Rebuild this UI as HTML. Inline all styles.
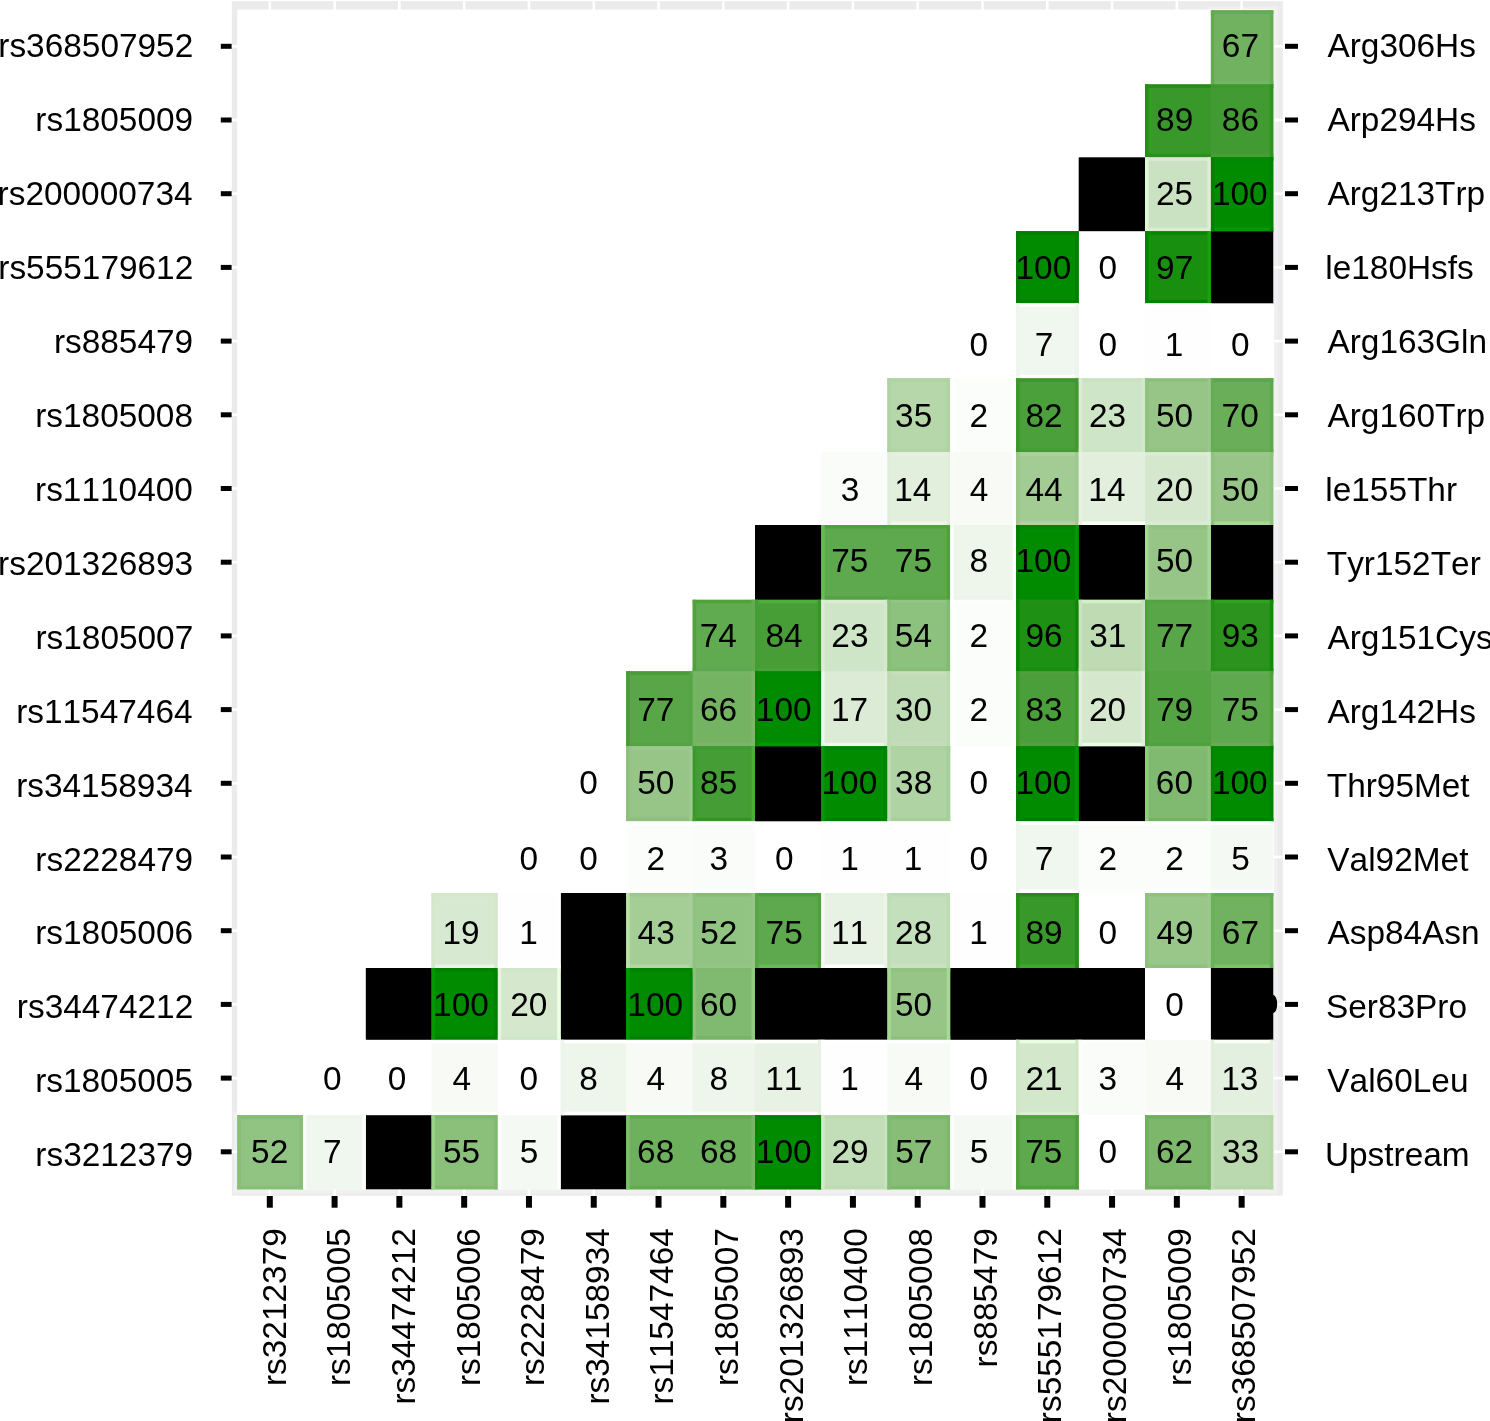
<!DOCTYPE html><html><head><meta charset="utf-8"><style>html,body{margin:0;padding:0;background:#fff;width:1490px;height:1421px;overflow:hidden}svg{display:block}#w{will-change:transform}text{font-family:"Liberation Sans",sans-serif;font-size:33.4px;fill:#000;font-kerning:none;font-feature-settings:"kern" 0}</style></head><body>
<div id="w"><svg width="1490" height="1421" viewBox="0 0 1490 1421">
<rect x="231.8" y="1.1" width="1051.0" height="1194.5" fill="#ebebeb"/>
<rect x="233.60" y="1111.50" width="4.70" height="82.00" fill="#f2eff2"/>
<rect x="233.60" y="1188.30" width="1044.30" height="5.20" fill="#f2eff2"/>
<rect x="1272.30" y="6.60" width="5.60" height="1186.90" fill="#f2eff2"/>
<rect x="1207.20" y="6.60" width="70.70" height="4.70" fill="#f2eff2"/>
<rect x="268.50" y="1.1" width="2.6" height="1194.5" fill="#fff"/>
<rect x="333.29" y="1.1" width="2.6" height="1194.5" fill="#fff"/>
<rect x="398.08" y="1.1" width="2.6" height="1194.5" fill="#fff"/>
<rect x="462.87" y="1.1" width="2.6" height="1194.5" fill="#fff"/>
<rect x="527.66" y="1.1" width="2.6" height="1194.5" fill="#fff"/>
<rect x="592.45" y="1.1" width="2.6" height="1194.5" fill="#fff"/>
<rect x="657.24" y="1.1" width="2.6" height="1194.5" fill="#fff"/>
<rect x="722.03" y="1.1" width="2.6" height="1194.5" fill="#fff"/>
<rect x="786.82" y="1.1" width="2.6" height="1194.5" fill="#fff"/>
<rect x="851.61" y="1.1" width="2.6" height="1194.5" fill="#fff"/>
<rect x="916.40" y="1.1" width="2.6" height="1194.5" fill="#fff"/>
<rect x="981.19" y="1.1" width="2.6" height="1194.5" fill="#fff"/>
<rect x="1045.98" y="1.1" width="2.6" height="1194.5" fill="#fff"/>
<rect x="1110.77" y="1.1" width="2.6" height="1194.5" fill="#fff"/>
<rect x="1175.56" y="1.1" width="2.6" height="1194.5" fill="#fff"/>
<rect x="1240.35" y="1.1" width="2.6" height="1194.5" fill="#fff"/>
<rect x="231.8" y="45.00" width="1051.0" height="2.6" fill="#fff"/>
<rect x="231.8" y="118.70" width="1051.0" height="2.6" fill="#fff"/>
<rect x="231.8" y="192.40" width="1051.0" height="2.6" fill="#fff"/>
<rect x="231.8" y="266.10" width="1051.0" height="2.6" fill="#fff"/>
<rect x="231.8" y="339.80" width="1051.0" height="2.6" fill="#fff"/>
<rect x="231.8" y="413.50" width="1051.0" height="2.6" fill="#fff"/>
<rect x="231.8" y="487.20" width="1051.0" height="2.6" fill="#fff"/>
<rect x="231.8" y="560.90" width="1051.0" height="2.6" fill="#fff"/>
<rect x="231.8" y="634.60" width="1051.0" height="2.6" fill="#fff"/>
<rect x="231.8" y="708.30" width="1051.0" height="2.6" fill="#fff"/>
<rect x="231.8" y="782.00" width="1051.0" height="2.6" fill="#fff"/>
<rect x="231.8" y="855.70" width="1051.0" height="2.6" fill="#fff"/>
<rect x="231.8" y="929.40" width="1051.0" height="2.6" fill="#fff"/>
<rect x="231.8" y="1003.10" width="1051.0" height="2.6" fill="#fff"/>
<rect x="231.8" y="1076.80" width="1051.0" height="2.6" fill="#fff"/>
<rect x="231.8" y="1150.50" width="1051.0" height="2.6" fill="#fff"/>
<rect x="237.6" y="9.5" width="1036.4" height="1179.5" fill="#fff"/>
<rect x="237.30" y="10.30" width="1036.00" height="1179.00" fill="#fff"/>
<rect x="1210.90" y="10.30" width="62.40" height="75.10" fill="#70b25f"/>
<rect x="1145.00" y="84.40" width="66.90" height="73.90" fill="#38982a"/>
<rect x="1210.90" y="84.40" width="62.40" height="73.90" fill="#419b32"/>
<rect x="1078.70" y="157.30" width="67.30" height="74.90" fill="#000000"/>
<rect x="1145.00" y="157.30" width="66.90" height="74.90" fill="#cbe2c2"/>
<rect x="1210.90" y="157.30" width="62.40" height="74.90" fill="#008b00"/>
<rect x="1016.10" y="231.20" width="63.60" height="73.10" fill="#008b00"/>
<rect x="1078.70" y="231.20" width="67.30" height="73.10" fill="#ffffff"/>
<rect x="1145.00" y="231.20" width="66.90" height="73.10" fill="#198f10"/>
<rect x="1210.90" y="231.20" width="62.40" height="73.10" fill="#000000"/>
<rect x="950.20" y="303.30" width="66.90" height="76.00" fill="#ffffff"/>
<rect x="1016.10" y="303.30" width="63.60" height="76.00" fill="#f0f7ee"/>
<rect x="1078.70" y="303.30" width="67.30" height="76.00" fill="#ffffff"/>
<rect x="1145.00" y="303.30" width="66.90" height="76.00" fill="#fdfefd"/>
<rect x="1210.90" y="303.30" width="62.40" height="76.00" fill="#ffffff"/>
<rect x="887.40" y="378.30" width="63.80" height="74.90" fill="#b6d7aa"/>
<rect x="950.20" y="378.30" width="66.90" height="74.90" fill="#fbfdfa"/>
<rect x="1016.10" y="378.30" width="63.60" height="74.90" fill="#4ca03c"/>
<rect x="1078.70" y="378.30" width="67.30" height="74.90" fill="#cfe5c7"/>
<rect x="1145.00" y="378.30" width="66.90" height="74.90" fill="#96c587"/>
<rect x="1210.90" y="378.30" width="62.40" height="74.90" fill="#6aae59"/>
<rect x="821.20" y="452.20" width="67.20" height="73.80" fill="#f9fcf8"/>
<rect x="887.40" y="452.20" width="63.80" height="73.80" fill="#e2efdc"/>
<rect x="950.20" y="452.20" width="66.90" height="73.80" fill="#f7faf5"/>
<rect x="1016.10" y="452.20" width="63.60" height="73.80" fill="#a3cc95"/>
<rect x="1078.70" y="452.20" width="67.30" height="73.80" fill="#e2efdc"/>
<rect x="1145.00" y="452.20" width="66.90" height="73.80" fill="#d5e8ce"/>
<rect x="1210.90" y="452.20" width="62.40" height="73.80" fill="#96c587"/>
<rect x="755.00" y="525.00" width="67.20" height="75.80" fill="#000000"/>
<rect x="821.20" y="525.00" width="67.20" height="75.80" fill="#5ea84d"/>
<rect x="887.40" y="525.00" width="63.80" height="75.80" fill="#5ea84d"/>
<rect x="950.20" y="525.00" width="66.90" height="75.80" fill="#eef6eb"/>
<rect x="1016.10" y="525.00" width="63.60" height="75.80" fill="#008b00"/>
<rect x="1078.70" y="525.00" width="67.30" height="75.80" fill="#000000"/>
<rect x="1145.00" y="525.00" width="66.90" height="75.80" fill="#96c587"/>
<rect x="1210.90" y="525.00" width="62.40" height="75.80" fill="#000000"/>
<rect x="692.70" y="599.80" width="63.30" height="72.50" fill="#60aa4f"/>
<rect x="755.00" y="599.80" width="67.20" height="72.50" fill="#479e37"/>
<rect x="821.20" y="599.80" width="67.20" height="72.50" fill="#cfe5c7"/>
<rect x="887.40" y="599.80" width="63.80" height="72.50" fill="#8dc17e"/>
<rect x="950.20" y="599.80" width="66.90" height="72.50" fill="#fbfdfa"/>
<rect x="1016.10" y="599.80" width="63.60" height="72.50" fill="#1e9014"/>
<rect x="1078.70" y="599.80" width="67.30" height="72.50" fill="#bedbb3"/>
<rect x="1145.00" y="599.80" width="66.90" height="72.50" fill="#59a648"/>
<rect x="1210.90" y="599.80" width="62.40" height="72.50" fill="#2b931e"/>
<rect x="626.20" y="671.30" width="67.50" height="75.90" fill="#59a648"/>
<rect x="692.70" y="671.30" width="63.30" height="75.90" fill="#73b362"/>
<rect x="755.00" y="671.30" width="67.20" height="75.90" fill="#008b00"/>
<rect x="821.20" y="671.30" width="67.20" height="75.90" fill="#dbebd5"/>
<rect x="887.40" y="671.30" width="63.80" height="75.90" fill="#c0dcb6"/>
<rect x="950.20" y="671.30" width="66.90" height="75.90" fill="#fbfdfa"/>
<rect x="1016.10" y="671.30" width="63.60" height="75.90" fill="#4a9f3a"/>
<rect x="1078.70" y="671.30" width="67.30" height="75.90" fill="#d5e8ce"/>
<rect x="1145.00" y="671.30" width="66.90" height="75.90" fill="#54a443"/>
<rect x="1210.90" y="671.30" width="62.40" height="75.90" fill="#5ea84d"/>
<rect x="560.70" y="746.20" width="66.50" height="76.10" fill="#ffffff"/>
<rect x="626.20" y="746.20" width="67.50" height="76.10" fill="#96c587"/>
<rect x="692.70" y="746.20" width="63.30" height="76.10" fill="#449d35"/>
<rect x="755.00" y="746.20" width="67.20" height="76.10" fill="#000000"/>
<rect x="821.20" y="746.20" width="67.20" height="76.10" fill="#008b00"/>
<rect x="887.40" y="746.20" width="63.80" height="76.10" fill="#afd3a3"/>
<rect x="950.20" y="746.20" width="66.90" height="76.10" fill="#ffffff"/>
<rect x="1016.10" y="746.20" width="63.60" height="76.10" fill="#008b00"/>
<rect x="1078.70" y="746.20" width="67.30" height="76.10" fill="#000000"/>
<rect x="1145.00" y="746.20" width="66.90" height="76.10" fill="#80ba70"/>
<rect x="1210.90" y="746.20" width="62.40" height="76.10" fill="#008b00"/>
<rect x="497.80" y="821.30" width="63.90" height="72.70" fill="#ffffff"/>
<rect x="560.70" y="821.30" width="66.50" height="72.70" fill="#ffffff"/>
<rect x="626.20" y="821.30" width="67.50" height="72.70" fill="#fbfdfa"/>
<rect x="692.70" y="821.30" width="63.30" height="72.70" fill="#f9fcf8"/>
<rect x="755.00" y="821.30" width="67.20" height="72.70" fill="#ffffff"/>
<rect x="821.20" y="821.30" width="67.20" height="72.70" fill="#fdfefd"/>
<rect x="887.40" y="821.30" width="63.80" height="72.70" fill="#fdfefd"/>
<rect x="950.20" y="821.30" width="66.90" height="72.70" fill="#ffffff"/>
<rect x="1016.10" y="821.30" width="63.60" height="72.70" fill="#f0f7ee"/>
<rect x="1078.70" y="821.30" width="67.30" height="72.70" fill="#fbfdfa"/>
<rect x="1145.00" y="821.30" width="66.90" height="72.70" fill="#fbfdfa"/>
<rect x="1210.90" y="821.30" width="62.40" height="72.70" fill="#f5f9f3"/>
<rect x="431.50" y="893.00" width="67.30" height="76.00" fill="#d7e9d0"/>
<rect x="497.80" y="893.00" width="63.90" height="76.00" fill="#fdfefd"/>
<rect x="560.70" y="893.00" width="66.50" height="76.00" fill="#000000"/>
<rect x="626.20" y="893.00" width="67.50" height="76.00" fill="#a5ce97"/>
<rect x="692.70" y="893.00" width="63.30" height="76.00" fill="#91c382"/>
<rect x="755.00" y="893.00" width="67.20" height="76.00" fill="#5ea84d"/>
<rect x="821.20" y="893.00" width="67.20" height="76.00" fill="#e8f2e4"/>
<rect x="887.40" y="893.00" width="63.80" height="76.00" fill="#c4dfbb"/>
<rect x="950.20" y="893.00" width="66.90" height="76.00" fill="#fdfefd"/>
<rect x="1016.10" y="893.00" width="63.60" height="76.00" fill="#38982a"/>
<rect x="1078.70" y="893.00" width="67.30" height="76.00" fill="#ffffff"/>
<rect x="1145.00" y="893.00" width="66.90" height="76.00" fill="#98c789"/>
<rect x="1210.90" y="893.00" width="62.40" height="76.00" fill="#70b25f"/>
<rect x="365.80" y="968.00" width="66.70" height="72.80" fill="#000000"/>
<rect x="431.50" y="968.00" width="67.30" height="72.80" fill="#008b00"/>
<rect x="497.80" y="968.00" width="63.90" height="72.80" fill="#d5e8ce"/>
<rect x="560.70" y="968.00" width="66.50" height="72.80" fill="#000000"/>
<rect x="626.20" y="968.00" width="67.50" height="72.80" fill="#008b00"/>
<rect x="692.70" y="968.00" width="63.30" height="72.80" fill="#80ba70"/>
<rect x="755.00" y="968.00" width="67.20" height="72.80" fill="#000000"/>
<rect x="821.20" y="968.00" width="67.20" height="72.80" fill="#000000"/>
<rect x="887.40" y="968.00" width="63.80" height="72.80" fill="#96c587"/>
<rect x="950.20" y="968.00" width="66.90" height="72.80" fill="#000000"/>
<rect x="1016.10" y="968.00" width="63.60" height="72.80" fill="#000000"/>
<rect x="1078.70" y="968.00" width="67.30" height="72.80" fill="#000000"/>
<rect x="1145.00" y="968.00" width="66.90" height="72.80" fill="#ffffff"/>
<rect x="1210.90" y="968.00" width="62.40" height="72.80" fill="#000000"/>
<rect x="303.00" y="1039.80" width="63.80" height="76.40" fill="#ffffff"/>
<rect x="365.80" y="1039.80" width="66.70" height="76.40" fill="#ffffff"/>
<rect x="431.50" y="1039.80" width="67.30" height="76.40" fill="#f7faf5"/>
<rect x="497.80" y="1039.80" width="63.90" height="76.40" fill="#ffffff"/>
<rect x="560.70" y="1039.80" width="66.50" height="76.40" fill="#eef6eb"/>
<rect x="626.20" y="1039.80" width="67.50" height="76.40" fill="#f7faf5"/>
<rect x="692.70" y="1039.80" width="63.30" height="76.40" fill="#eef6eb"/>
<rect x="755.00" y="1039.80" width="67.20" height="76.40" fill="#e8f2e4"/>
<rect x="821.20" y="1039.80" width="67.20" height="76.40" fill="#fdfefd"/>
<rect x="887.40" y="1039.80" width="63.80" height="76.40" fill="#f7faf5"/>
<rect x="950.20" y="1039.80" width="66.90" height="76.40" fill="#ffffff"/>
<rect x="1016.10" y="1039.80" width="63.60" height="76.40" fill="#d3e7cb"/>
<rect x="1078.70" y="1039.80" width="67.30" height="76.40" fill="#f9fcf8"/>
<rect x="1145.00" y="1039.80" width="66.90" height="76.40" fill="#f7faf5"/>
<rect x="1210.90" y="1039.80" width="62.40" height="76.40" fill="#e4f0df"/>
<rect x="237.30" y="1115.20" width="66.70" height="74.10" fill="#91c382"/>
<rect x="303.00" y="1115.20" width="63.80" height="74.10" fill="#f0f7ee"/>
<rect x="365.80" y="1115.20" width="66.70" height="74.10" fill="#000000"/>
<rect x="431.50" y="1115.20" width="67.30" height="74.10" fill="#8bc07b"/>
<rect x="497.80" y="1115.20" width="63.90" height="74.10" fill="#f5f9f3"/>
<rect x="560.70" y="1115.20" width="66.50" height="74.10" fill="#000000"/>
<rect x="626.20" y="1115.20" width="67.50" height="74.10" fill="#6eb15d"/>
<rect x="692.70" y="1115.20" width="63.30" height="74.10" fill="#6eb15d"/>
<rect x="755.00" y="1115.20" width="67.20" height="74.10" fill="#008b00"/>
<rect x="821.20" y="1115.20" width="67.20" height="74.10" fill="#c2deb8"/>
<rect x="887.40" y="1115.20" width="63.80" height="74.10" fill="#87bd77"/>
<rect x="950.20" y="1115.20" width="66.90" height="74.10" fill="#f5f9f3"/>
<rect x="1016.10" y="1115.20" width="63.60" height="74.10" fill="#5ea84d"/>
<rect x="1078.70" y="1115.20" width="67.30" height="74.10" fill="#ffffff"/>
<rect x="1145.00" y="1115.20" width="66.90" height="74.10" fill="#7cb76b"/>
<rect x="1210.90" y="1115.20" width="62.40" height="74.10" fill="#bad9af"/>
<rect x="1210.90" y="10.30" width="62.40" height="3.50" fill="#63ac50"/>
<rect x="1210.90" y="80.90" width="62.40" height="3.50" fill="#75b464"/>
<rect x="1210.90" y="10.30" width="3.50" height="74.10" fill="#62aa4f"/>
<rect x="1269.80" y="10.30" width="3.50" height="74.10" fill="#63ac50"/>
<rect x="1145.00" y="84.40" width="65.90" height="3.50" fill="#248e15"/>
<rect x="1145.00" y="153.80" width="65.90" height="3.50" fill="#29911b"/>
<rect x="1145.00" y="84.40" width="3.50" height="72.90" fill="#248e15"/>
<rect x="1210.90" y="84.40" width="62.40" height="3.50" fill="#3c992e"/>
<rect x="1210.90" y="153.80" width="62.40" height="3.50" fill="#489d37"/>
<rect x="1269.80" y="84.40" width="3.50" height="72.90" fill="#2f931f"/>
<rect x="1145.00" y="157.30" width="65.90" height="3.50" fill="#dae9d1"/>
<rect x="1145.00" y="227.70" width="65.90" height="3.50" fill="#ddead4"/>
<rect x="1145.00" y="157.30" width="3.50" height="73.90" fill="#dff9d5"/>
<rect x="1207.40" y="157.30" width="3.50" height="73.90" fill="#dfebd5"/>
<rect x="1210.90" y="157.30" width="62.40" height="3.50" fill="#008900"/>
<rect x="1210.90" y="227.70" width="62.40" height="3.50" fill="#009900"/>
<rect x="1210.90" y="157.30" width="3.50" height="73.90" fill="#008200"/>
<rect x="1269.80" y="157.30" width="3.50" height="73.90" fill="#008100"/>
<rect x="1016.10" y="231.20" width="62.60" height="3.50" fill="#007f00"/>
<rect x="1016.10" y="299.80" width="62.60" height="3.50" fill="#008000"/>
<rect x="1016.10" y="231.20" width="3.50" height="72.10" fill="#007f00"/>
<rect x="1075.20" y="231.20" width="3.50" height="72.10" fill="#007f00"/>
<rect x="1145.00" y="231.20" width="65.90" height="3.50" fill="#078700"/>
<rect x="1145.00" y="299.80" width="65.90" height="3.50" fill="#028400"/>
<rect x="1145.00" y="231.20" width="3.50" height="72.10" fill="#028400"/>
<rect x="1207.40" y="231.20" width="3.50" height="72.10" fill="#1c9d12"/>
<rect x="1016.10" y="303.30" width="62.60" height="3.50" fill="#ffffff"/>
<rect x="1016.10" y="374.80" width="62.60" height="3.50" fill="#ffffff"/>
<rect x="1016.10" y="303.30" width="3.50" height="75.00" fill="#eef6ec"/>
<rect x="1075.20" y="303.30" width="3.50" height="75.00" fill="#eef6ec"/>
<rect x="1145.00" y="303.30" width="65.90" height="3.50" fill="#ffffff"/>
<rect x="1145.00" y="374.80" width="65.90" height="3.50" fill="#ffffff"/>
<rect x="887.40" y="378.30" width="62.80" height="3.50" fill="#afd3a2"/>
<rect x="887.40" y="448.70" width="62.80" height="3.50" fill="#b2d5a5"/>
<rect x="887.40" y="378.30" width="3.50" height="73.90" fill="#afd3a2"/>
<rect x="946.70" y="378.30" width="3.50" height="73.90" fill="#afd3a2"/>
<rect x="950.20" y="378.30" width="3.50" height="73.90" fill="#ffffff"/>
<rect x="1012.60" y="378.30" width="3.50" height="73.90" fill="#ffffff"/>
<rect x="1016.10" y="378.30" width="62.60" height="3.50" fill="#3c972a"/>
<rect x="1016.10" y="448.70" width="62.60" height="3.50" fill="#439c33"/>
<rect x="1016.10" y="378.30" width="3.50" height="73.90" fill="#3a9729"/>
<rect x="1075.20" y="378.30" width="3.50" height="73.90" fill="#3f992e"/>
<rect x="1078.70" y="378.30" width="66.30" height="3.50" fill="#cae2c1"/>
<rect x="1078.70" y="448.70" width="66.30" height="3.50" fill="#cde4c5"/>
<rect x="1078.70" y="378.30" width="3.50" height="73.90" fill="#dcecd5"/>
<rect x="1141.50" y="378.30" width="3.50" height="73.90" fill="#d5e8cd"/>
<rect x="1145.00" y="378.30" width="65.90" height="3.50" fill="#8cbf7b"/>
<rect x="1145.00" y="448.70" width="65.90" height="3.50" fill="#90c280"/>
<rect x="1145.00" y="378.30" width="3.50" height="73.90" fill="#90c281"/>
<rect x="1207.40" y="378.30" width="3.50" height="73.90" fill="#9ac78c"/>
<rect x="1210.90" y="378.30" width="62.40" height="3.50" fill="#5ba648"/>
<rect x="1210.90" y="448.70" width="62.40" height="3.50" fill="#66ac54"/>
<rect x="1210.90" y="378.30" width="3.50" height="73.90" fill="#66ac54"/>
<rect x="1269.80" y="378.30" width="3.50" height="73.90" fill="#5ca84a"/>
<rect x="821.20" y="521.50" width="66.20" height="3.50" fill="#ffffff"/>
<rect x="883.90" y="452.20" width="3.50" height="72.80" fill="#fbfdfb"/>
<rect x="887.40" y="452.20" width="62.80" height="3.50" fill="#e6f1e1"/>
<rect x="887.40" y="521.50" width="62.80" height="3.50" fill="#eff6ea"/>
<rect x="887.40" y="452.20" width="3.50" height="72.80" fill="#e0eed9"/>
<rect x="946.70" y="452.20" width="3.50" height="72.80" fill="#e0eeda"/>
<rect x="950.20" y="452.20" width="3.50" height="72.80" fill="#f9fbf8"/>
<rect x="1012.60" y="452.20" width="3.50" height="72.80" fill="#ffffff"/>
<rect x="1016.10" y="452.20" width="62.60" height="3.50" fill="#acd09e"/>
<rect x="1016.10" y="521.50" width="62.60" height="3.50" fill="#b3d2a4"/>
<rect x="1016.10" y="452.20" width="3.50" height="72.80" fill="#9bc78b"/>
<rect x="1075.20" y="452.20" width="3.50" height="72.80" fill="#9dc88e"/>
<rect x="1078.70" y="452.20" width="66.30" height="3.50" fill="#e4f0de"/>
<rect x="1078.70" y="521.50" width="66.30" height="3.50" fill="#f9fff2"/>
<rect x="1078.70" y="452.20" width="3.50" height="72.80" fill="#e8f2e3"/>
<rect x="1145.00" y="452.20" width="65.90" height="3.50" fill="#dbecd5"/>
<rect x="1145.00" y="521.50" width="65.90" height="3.50" fill="#dbecd5"/>
<rect x="1207.40" y="452.20" width="3.50" height="72.80" fill="#dbecd5"/>
<rect x="1210.90" y="452.20" width="62.40" height="3.50" fill="#9ac78c"/>
<rect x="1210.90" y="521.50" width="62.40" height="3.50" fill="#a5d994"/>
<rect x="1210.90" y="452.20" width="3.50" height="72.80" fill="#90c280"/>
<rect x="1269.80" y="452.20" width="3.50" height="72.80" fill="#8dc17c"/>
<rect x="821.20" y="525.00" width="66.20" height="3.50" fill="#4ea03c"/>
<rect x="821.20" y="596.30" width="66.20" height="3.50" fill="#53a241"/>
<rect x="821.20" y="525.00" width="3.50" height="74.80" fill="#67b955"/>
<rect x="887.40" y="525.00" width="62.80" height="3.50" fill="#51a13f"/>
<rect x="887.40" y="596.30" width="62.80" height="3.50" fill="#59a648"/>
<rect x="946.70" y="525.00" width="3.50" height="74.80" fill="#50a03d"/>
<rect x="950.20" y="596.30" width="65.90" height="3.50" fill="#edf5ea"/>
<rect x="950.20" y="525.00" width="3.50" height="74.80" fill="#fcfefb"/>
<rect x="1012.60" y="525.00" width="3.50" height="74.80" fill="#ffffff"/>
<rect x="1016.10" y="525.00" width="62.60" height="3.50" fill="#008400"/>
<rect x="1016.10" y="525.00" width="3.50" height="74.80" fill="#008000"/>
<rect x="1075.20" y="525.00" width="3.50" height="74.80" fill="#009900"/>
<rect x="1145.00" y="525.00" width="65.90" height="3.50" fill="#90c280"/>
<rect x="1145.00" y="596.30" width="65.90" height="3.50" fill="#9cc88d"/>
<rect x="1145.00" y="525.00" width="3.50" height="74.80" fill="#a5d994"/>
<rect x="1207.40" y="525.00" width="3.50" height="74.80" fill="#a5d994"/>
<rect x="692.70" y="599.80" width="62.30" height="3.50" fill="#50a23d"/>
<rect x="692.70" y="667.80" width="62.30" height="3.50" fill="#5ea94d"/>
<rect x="692.70" y="599.80" width="3.50" height="71.50" fill="#50a23d"/>
<rect x="751.50" y="599.80" width="3.50" height="71.50" fill="#62ab51"/>
<rect x="755.00" y="599.80" width="66.20" height="3.50" fill="#4eae3c"/>
<rect x="755.00" y="667.80" width="66.20" height="3.50" fill="#4ea03c"/>
<rect x="755.00" y="599.80" width="3.50" height="71.50" fill="#449d35"/>
<rect x="817.70" y="599.80" width="3.50" height="71.50" fill="#399729"/>
<rect x="821.20" y="599.80" width="66.20" height="3.50" fill="#daebd3"/>
<rect x="821.20" y="599.80" width="3.50" height="71.50" fill="#ddecd5"/>
<rect x="883.90" y="599.80" width="3.50" height="71.50" fill="#d6e9ce"/>
<rect x="887.40" y="599.80" width="62.80" height="3.50" fill="#92c483"/>
<rect x="887.40" y="667.80" width="62.80" height="3.50" fill="#88be78"/>
<rect x="887.40" y="599.80" width="3.50" height="71.50" fill="#86bd77"/>
<rect x="946.70" y="599.80" width="3.50" height="71.50" fill="#82bb72"/>
<rect x="950.20" y="599.80" width="65.90" height="3.50" fill="#fcfefc"/>
<rect x="950.20" y="599.80" width="3.50" height="71.50" fill="#ffffff"/>
<rect x="1012.60" y="599.80" width="3.50" height="71.50" fill="#ffffff"/>
<rect x="1016.10" y="599.80" width="62.60" height="3.50" fill="#219016"/>
<rect x="1016.10" y="667.80" width="62.60" height="3.50" fill="#1a8e10"/>
<rect x="1016.10" y="599.80" width="3.50" height="71.50" fill="#088500"/>
<rect x="1075.20" y="599.80" width="3.50" height="71.50" fill="#0e8804"/>
<rect x="1078.70" y="599.80" width="66.30" height="3.50" fill="#d1f1c5"/>
<rect x="1078.70" y="667.80" width="66.30" height="3.50" fill="#bcdab0"/>
<rect x="1078.70" y="599.80" width="3.50" height="71.50" fill="#cee2c3"/>
<rect x="1141.50" y="599.80" width="3.50" height="71.50" fill="#c8e0be"/>
<rect x="1145.00" y="599.80" width="65.90" height="3.50" fill="#53a342"/>
<rect x="1145.00" y="599.80" width="3.50" height="71.50" fill="#4fa13d"/>
<rect x="1207.40" y="599.80" width="3.50" height="71.50" fill="#5ea84c"/>
<rect x="1210.90" y="599.80" width="62.40" height="3.50" fill="#2fa221"/>
<rect x="1210.90" y="667.80" width="62.40" height="3.50" fill="#269119"/>
<rect x="1210.90" y="599.80" width="3.50" height="71.50" fill="#26911a"/>
<rect x="1269.80" y="599.80" width="3.50" height="71.50" fill="#178a09"/>
<rect x="626.20" y="671.30" width="66.50" height="3.50" fill="#489d36"/>
<rect x="626.20" y="742.70" width="66.50" height="3.50" fill="#53a342"/>
<rect x="626.20" y="671.30" width="3.50" height="74.90" fill="#489d36"/>
<rect x="689.20" y="671.30" width="3.50" height="74.90" fill="#56a545"/>
<rect x="692.70" y="671.30" width="62.30" height="3.50" fill="#75b464"/>
<rect x="692.70" y="742.70" width="62.30" height="3.50" fill="#78b566"/>
<rect x="692.70" y="671.30" width="3.50" height="74.90" fill="#76b465"/>
<rect x="751.50" y="671.30" width="3.50" height="74.90" fill="#7eb76c"/>
<rect x="755.00" y="671.30" width="66.20" height="3.50" fill="#008900"/>
<rect x="755.00" y="742.70" width="66.20" height="3.50" fill="#009900"/>
<rect x="755.00" y="671.30" width="3.50" height="74.90" fill="#008700"/>
<rect x="817.70" y="671.30" width="3.50" height="74.90" fill="#008100"/>
<rect x="821.20" y="742.70" width="66.20" height="3.50" fill="#f1f5ea"/>
<rect x="821.20" y="671.30" width="3.50" height="74.90" fill="#f1f5ea"/>
<rect x="883.90" y="671.30" width="3.50" height="74.90" fill="#deecd8"/>
<rect x="887.40" y="671.30" width="62.80" height="3.50" fill="#c5dfbc"/>
<rect x="887.40" y="742.70" width="62.80" height="3.50" fill="#c2ddb8"/>
<rect x="887.40" y="671.30" width="3.50" height="74.90" fill="#bddab3"/>
<rect x="946.70" y="671.30" width="3.50" height="74.90" fill="#bad9af"/>
<rect x="950.20" y="671.30" width="3.50" height="74.90" fill="#ffffff"/>
<rect x="1012.60" y="671.30" width="3.50" height="74.90" fill="#ffffff"/>
<rect x="1016.10" y="671.30" width="62.60" height="3.50" fill="#4ea03e"/>
<rect x="1016.10" y="742.70" width="62.60" height="3.50" fill="#51a140"/>
<rect x="1016.10" y="671.30" width="3.50" height="74.90" fill="#389627"/>
<rect x="1075.20" y="671.30" width="3.50" height="74.90" fill="#3c982b"/>
<rect x="1078.70" y="671.30" width="66.30" height="3.50" fill="#d7e9d1"/>
<rect x="1078.70" y="742.70" width="66.30" height="3.50" fill="#eaffe3"/>
<rect x="1078.70" y="671.30" width="3.50" height="74.90" fill="#e3efdd"/>
<rect x="1141.50" y="671.30" width="3.50" height="74.90" fill="#e2efdc"/>
<rect x="1145.00" y="742.70" width="65.90" height="3.50" fill="#50a23e"/>
<rect x="1145.00" y="671.30" width="3.50" height="74.90" fill="#479d35"/>
<rect x="1210.90" y="671.30" width="62.40" height="3.50" fill="#63aa52"/>
<rect x="1210.90" y="742.70" width="62.40" height="3.50" fill="#67ab55"/>
<rect x="1269.80" y="671.30" width="3.50" height="74.90" fill="#4fa13c"/>
<rect x="626.20" y="746.20" width="66.50" height="3.50" fill="#9cc88d"/>
<rect x="626.20" y="817.80" width="66.50" height="3.50" fill="#8cbf7c"/>
<rect x="626.20" y="746.20" width="3.50" height="75.10" fill="#8cbf7b"/>
<rect x="689.20" y="746.20" width="3.50" height="75.10" fill="#9ec98f"/>
<rect x="692.70" y="746.20" width="62.30" height="3.50" fill="#3f9b30"/>
<rect x="692.70" y="817.80" width="62.30" height="3.50" fill="#329422"/>
<rect x="692.70" y="746.20" width="3.50" height="75.10" fill="#3c992d"/>
<rect x="751.50" y="746.20" width="3.50" height="75.10" fill="#4bad3a"/>
<rect x="821.20" y="746.20" width="66.20" height="3.50" fill="#008100"/>
<rect x="821.20" y="817.80" width="66.20" height="3.50" fill="#008000"/>
<rect x="821.20" y="746.20" width="3.50" height="75.10" fill="#009900"/>
<rect x="883.90" y="746.20" width="3.50" height="75.10" fill="#008400"/>
<rect x="887.40" y="746.20" width="62.80" height="3.50" fill="#add2a1"/>
<rect x="887.40" y="817.80" width="62.80" height="3.50" fill="#a7cf9a"/>
<rect x="887.40" y="746.20" width="3.50" height="75.10" fill="#c0dab3"/>
<rect x="946.70" y="746.20" width="3.50" height="75.10" fill="#a7cf9a"/>
<rect x="1016.10" y="746.20" width="62.60" height="3.50" fill="#008900"/>
<rect x="1016.10" y="817.80" width="62.60" height="3.50" fill="#008000"/>
<rect x="1016.10" y="746.20" width="3.50" height="75.10" fill="#007f00"/>
<rect x="1075.20" y="746.20" width="3.50" height="75.10" fill="#009900"/>
<rect x="1145.00" y="746.20" width="65.90" height="3.50" fill="#84bc74"/>
<rect x="1145.00" y="817.80" width="65.90" height="3.50" fill="#74b362"/>
<rect x="1145.00" y="746.20" width="3.50" height="75.10" fill="#8dcd7b"/>
<rect x="1207.40" y="746.20" width="3.50" height="75.10" fill="#8dbf7b"/>
<rect x="1210.90" y="746.20" width="62.40" height="3.50" fill="#008800"/>
<rect x="1210.90" y="817.80" width="62.40" height="3.50" fill="#008000"/>
<rect x="1210.90" y="746.20" width="3.50" height="75.10" fill="#008600"/>
<rect x="1269.80" y="746.20" width="3.50" height="75.10" fill="#008100"/>
<rect x="626.20" y="821.30" width="66.50" height="3.50" fill="#ffffff"/>
<rect x="626.20" y="889.50" width="66.50" height="3.50" fill="#ffffff"/>
<rect x="692.70" y="821.30" width="62.30" height="3.50" fill="#ffffff"/>
<rect x="692.70" y="889.50" width="62.30" height="3.50" fill="#ffffff"/>
<rect x="821.20" y="821.30" width="66.20" height="3.50" fill="#ffffff"/>
<rect x="821.20" y="889.50" width="66.20" height="3.50" fill="#ffffff"/>
<rect x="887.40" y="821.30" width="62.80" height="3.50" fill="#ffffff"/>
<rect x="887.40" y="889.50" width="62.80" height="3.50" fill="#ffffff"/>
<rect x="1016.10" y="821.30" width="62.60" height="3.50" fill="#ffffff"/>
<rect x="1016.10" y="889.50" width="62.60" height="3.50" fill="#ffffff"/>
<rect x="1016.10" y="821.30" width="3.50" height="71.70" fill="#eef6ec"/>
<rect x="1078.70" y="821.30" width="66.30" height="3.50" fill="#ffffff"/>
<rect x="1145.00" y="821.30" width="65.90" height="3.50" fill="#ffffff"/>
<rect x="1145.00" y="889.50" width="65.90" height="3.50" fill="#ffffff"/>
<rect x="1210.90" y="821.30" width="62.40" height="3.50" fill="#ffffff"/>
<rect x="1210.90" y="889.50" width="62.40" height="3.50" fill="#ffffff"/>
<rect x="431.50" y="893.00" width="66.30" height="3.50" fill="#d3e7cb"/>
<rect x="431.50" y="964.50" width="66.30" height="3.50" fill="#ecf2e5"/>
<rect x="431.50" y="893.00" width="3.50" height="75.00" fill="#d3e7cb"/>
<rect x="494.30" y="893.00" width="3.50" height="75.00" fill="#d3e7cc"/>
<rect x="497.80" y="964.50" width="62.90" height="3.50" fill="#ffffff"/>
<rect x="497.80" y="893.00" width="3.50" height="75.00" fill="#ffffff"/>
<rect x="557.20" y="893.00" width="3.50" height="75.00" fill="#ffffff"/>
<rect x="626.20" y="893.00" width="66.50" height="3.50" fill="#9cc98d"/>
<rect x="626.20" y="964.50" width="66.50" height="3.50" fill="#b6d5a6"/>
<rect x="626.20" y="893.00" width="3.50" height="75.00" fill="#b6e3a6"/>
<rect x="689.20" y="893.00" width="3.50" height="75.00" fill="#a7cf99"/>
<rect x="692.70" y="893.00" width="62.30" height="3.50" fill="#87bd76"/>
<rect x="692.70" y="964.50" width="62.30" height="3.50" fill="#93c484"/>
<rect x="692.70" y="893.00" width="3.50" height="75.00" fill="#8fc280"/>
<rect x="751.50" y="893.00" width="3.50" height="75.00" fill="#96c687"/>
<rect x="755.00" y="893.00" width="66.20" height="3.50" fill="#4e9f3b"/>
<rect x="755.00" y="964.50" width="66.20" height="3.50" fill="#67b955"/>
<rect x="755.00" y="893.00" width="3.50" height="75.00" fill="#59a548"/>
<rect x="817.70" y="893.00" width="3.50" height="75.00" fill="#50a13e"/>
<rect x="821.20" y="893.00" width="66.20" height="3.50" fill="#e6f1e2"/>
<rect x="821.20" y="964.50" width="66.20" height="3.50" fill="#fffffb"/>
<rect x="821.20" y="893.00" width="3.50" height="75.00" fill="#f6f9f3"/>
<rect x="883.90" y="893.00" width="3.50" height="75.00" fill="#ecf4e8"/>
<rect x="887.40" y="893.00" width="62.80" height="3.50" fill="#bedcb4"/>
<rect x="887.40" y="964.50" width="62.80" height="3.50" fill="#c9e2c0"/>
<rect x="887.40" y="893.00" width="3.50" height="75.00" fill="#c0ddb7"/>
<rect x="946.70" y="893.00" width="3.50" height="75.00" fill="#bedcb4"/>
<rect x="950.20" y="964.50" width="65.90" height="3.50" fill="#ffffff"/>
<rect x="950.20" y="893.00" width="3.50" height="75.00" fill="#ffffff"/>
<rect x="1012.60" y="893.00" width="3.50" height="75.00" fill="#ffffff"/>
<rect x="1016.10" y="893.00" width="62.60" height="3.50" fill="#268e16"/>
<rect x="1016.10" y="964.50" width="62.60" height="3.50" fill="#3ea72e"/>
<rect x="1016.10" y="893.00" width="3.50" height="75.00" fill="#248e15"/>
<rect x="1075.20" y="893.00" width="3.50" height="75.00" fill="#248e15"/>
<rect x="1145.00" y="893.00" width="65.90" height="3.50" fill="#8ec27e"/>
<rect x="1145.00" y="964.50" width="65.90" height="3.50" fill="#8ec17d"/>
<rect x="1145.00" y="893.00" width="3.50" height="75.00" fill="#8ec17d"/>
<rect x="1207.40" y="893.00" width="3.50" height="75.00" fill="#9cc98d"/>
<rect x="1210.90" y="893.00" width="62.40" height="3.50" fill="#63ab50"/>
<rect x="1210.90" y="964.50" width="62.40" height="3.50" fill="#7bc468"/>
<rect x="1210.90" y="893.00" width="3.50" height="75.00" fill="#6cb05b"/>
<rect x="1269.80" y="893.00" width="3.50" height="75.00" fill="#63ac50"/>
<rect x="431.50" y="968.00" width="66.30" height="3.50" fill="#008200"/>
<rect x="431.50" y="1036.30" width="66.30" height="3.50" fill="#008000"/>
<rect x="431.50" y="968.00" width="3.50" height="71.80" fill="#009900"/>
<rect x="494.30" y="968.00" width="3.50" height="71.80" fill="#008200"/>
<rect x="497.80" y="968.00" width="62.90" height="3.50" fill="#d1e6c9"/>
<rect x="497.80" y="1036.30" width="62.90" height="3.50" fill="#d1e6c9"/>
<rect x="497.80" y="968.00" width="3.50" height="71.80" fill="#eaf1e3"/>
<rect x="557.20" y="968.00" width="3.50" height="71.80" fill="#eaffe3"/>
<rect x="626.20" y="968.00" width="66.50" height="3.50" fill="#008400"/>
<rect x="626.20" y="1036.30" width="66.50" height="3.50" fill="#008000"/>
<rect x="626.20" y="968.00" width="3.50" height="71.80" fill="#009900"/>
<rect x="689.20" y="968.00" width="3.50" height="71.80" fill="#008600"/>
<rect x="692.70" y="968.00" width="62.30" height="3.50" fill="#7eb96e"/>
<rect x="692.70" y="1036.30" width="62.30" height="3.50" fill="#75b464"/>
<rect x="692.70" y="968.00" width="3.50" height="71.80" fill="#8dbf7b"/>
<rect x="751.50" y="968.00" width="3.50" height="71.80" fill="#8dcd7b"/>
<rect x="887.40" y="968.00" width="62.80" height="3.50" fill="#91c282"/>
<rect x="887.40" y="1036.30" width="62.80" height="3.50" fill="#8cc07c"/>
<rect x="887.40" y="968.00" width="3.50" height="71.80" fill="#a5d994"/>
<rect x="946.70" y="968.00" width="3.50" height="71.80" fill="#a5d994"/>
<rect x="431.50" y="1039.80" width="66.30" height="3.50" fill="#ffffff"/>
<rect x="431.50" y="1111.70" width="66.30" height="3.50" fill="#ffffff"/>
<rect x="560.70" y="1039.80" width="65.50" height="3.50" fill="#ffffff"/>
<rect x="560.70" y="1111.70" width="65.50" height="3.50" fill="#ffffff"/>
<rect x="560.70" y="1039.80" width="3.50" height="75.40" fill="#ecf5e9"/>
<rect x="626.20" y="1039.80" width="66.50" height="3.50" fill="#ffffff"/>
<rect x="626.20" y="1111.70" width="66.50" height="3.50" fill="#ffffff"/>
<rect x="692.70" y="1039.80" width="62.30" height="3.50" fill="#f9fcf7"/>
<rect x="692.70" y="1111.70" width="62.30" height="3.50" fill="#fbfdf9"/>
<rect x="755.00" y="1039.80" width="66.20" height="3.50" fill="#fffffb"/>
<rect x="755.00" y="1111.70" width="66.20" height="3.50" fill="#fffcfb"/>
<rect x="817.70" y="1039.80" width="3.50" height="75.40" fill="#e6f1e2"/>
<rect x="821.20" y="1039.80" width="66.20" height="3.50" fill="#ffffff"/>
<rect x="821.20" y="1111.70" width="66.20" height="3.50" fill="#ffffff"/>
<rect x="821.20" y="1039.80" width="3.50" height="75.40" fill="#ffffff"/>
<rect x="887.40" y="1039.80" width="62.80" height="3.50" fill="#ffffff"/>
<rect x="887.40" y="1111.70" width="62.80" height="3.50" fill="#ffffff"/>
<rect x="1016.10" y="1039.80" width="62.60" height="3.50" fill="#e8fedf"/>
<rect x="1016.10" y="1111.70" width="62.60" height="3.50" fill="#dfedd8"/>
<rect x="1016.10" y="1039.80" width="3.50" height="75.40" fill="#cfe5c6"/>
<rect x="1075.20" y="1039.80" width="3.50" height="75.40" fill="#cfe5c6"/>
<rect x="1078.70" y="1039.80" width="66.30" height="3.50" fill="#ffffff"/>
<rect x="1078.70" y="1039.80" width="3.50" height="75.40" fill="#fdfefc"/>
<rect x="1145.00" y="1111.70" width="65.90" height="3.50" fill="#ffffff"/>
<rect x="1207.40" y="1039.80" width="3.50" height="75.40" fill="#f9fbf7"/>
<rect x="1210.90" y="1039.80" width="62.40" height="3.50" fill="#fbfff5"/>
<rect x="1210.90" y="1111.70" width="62.40" height="3.50" fill="#e8f2e4"/>
<rect x="1210.90" y="1039.80" width="3.50" height="75.40" fill="#e2efdd"/>
<rect x="1269.80" y="1039.80" width="3.50" height="75.40" fill="#e3f0dd"/>
<rect x="237.30" y="1115.20" width="65.70" height="3.50" fill="#86bd76"/>
<rect x="237.30" y="1185.80" width="65.70" height="3.50" fill="#87bf77"/>
<rect x="237.30" y="1115.20" width="3.50" height="74.10" fill="#87bf77"/>
<rect x="299.50" y="1115.20" width="3.50" height="74.10" fill="#88be77"/>
<rect x="303.00" y="1115.20" width="62.80" height="3.50" fill="#eef6ec"/>
<rect x="303.00" y="1115.20" width="3.50" height="74.10" fill="#fafcf9"/>
<rect x="362.30" y="1115.20" width="3.50" height="74.10" fill="#ffffff"/>
<rect x="431.50" y="1115.20" width="66.30" height="3.50" fill="#80ba6f"/>
<rect x="431.50" y="1185.80" width="66.30" height="3.50" fill="#81bb6f"/>
<rect x="431.50" y="1115.20" width="3.50" height="74.10" fill="#99d387"/>
<rect x="494.30" y="1115.20" width="3.50" height="74.10" fill="#80ba6f"/>
<rect x="497.80" y="1115.20" width="3.50" height="74.10" fill="#ffffff"/>
<rect x="557.20" y="1115.20" width="3.50" height="74.10" fill="#ffffff"/>
<rect x="626.20" y="1115.20" width="66.50" height="3.50" fill="#60aa4e"/>
<rect x="626.20" y="1185.80" width="66.50" height="3.50" fill="#61ab4e"/>
<rect x="626.20" y="1115.20" width="3.50" height="74.10" fill="#79c366"/>
<rect x="692.70" y="1115.20" width="62.30" height="3.50" fill="#61aa4f"/>
<rect x="692.70" y="1185.80" width="62.30" height="3.50" fill="#61ab4e"/>
<rect x="751.50" y="1115.20" width="3.50" height="74.10" fill="#79b566"/>
<rect x="755.00" y="1115.20" width="66.20" height="3.50" fill="#008100"/>
<rect x="755.00" y="1185.80" width="66.20" height="3.50" fill="#008100"/>
<rect x="755.00" y="1115.20" width="3.50" height="74.10" fill="#008700"/>
<rect x="817.70" y="1115.20" width="3.50" height="74.10" fill="#008300"/>
<rect x="821.20" y="1115.20" width="66.20" height="3.50" fill="#bcdbb1"/>
<rect x="821.20" y="1185.80" width="66.20" height="3.50" fill="#bddcb2"/>
<rect x="821.20" y="1115.20" width="3.50" height="74.10" fill="#d5e6ca"/>
<rect x="883.90" y="1115.20" width="3.50" height="74.10" fill="#c8e1be"/>
<rect x="887.40" y="1115.20" width="62.80" height="3.50" fill="#7cb76a"/>
<rect x="887.40" y="1185.80" width="62.80" height="3.50" fill="#7cb86b"/>
<rect x="887.40" y="1115.20" width="3.50" height="74.10" fill="#81ba70"/>
<rect x="946.70" y="1115.20" width="3.50" height="74.10" fill="#7cb76b"/>
<rect x="950.20" y="1115.20" width="3.50" height="74.10" fill="#ffffff"/>
<rect x="1012.60" y="1115.20" width="3.50" height="74.10" fill="#ffffff"/>
<rect x="1016.10" y="1115.20" width="62.60" height="3.50" fill="#52a240"/>
<rect x="1016.10" y="1185.80" width="62.60" height="3.50" fill="#4fa13c"/>
<rect x="1016.10" y="1115.20" width="3.50" height="74.10" fill="#4fa03c"/>
<rect x="1075.20" y="1115.20" width="3.50" height="74.10" fill="#4e9f3b"/>
<rect x="1145.00" y="1115.20" width="65.90" height="3.50" fill="#70b05d"/>
<rect x="1145.00" y="1185.80" width="65.90" height="3.50" fill="#70b15e"/>
<rect x="1145.00" y="1115.20" width="3.50" height="74.10" fill="#6fb05c"/>
<rect x="1207.40" y="1115.20" width="3.50" height="74.10" fill="#76b464"/>
<rect x="1210.90" y="1115.20" width="62.40" height="3.50" fill="#b6d7aa"/>
<rect x="1210.90" y="1185.80" width="62.40" height="3.50" fill="#b4d7a8"/>
<rect x="1210.90" y="1115.20" width="3.50" height="74.10" fill="#c0dcb6"/>
<rect x="1269.80" y="1115.20" width="3.50" height="74.10" fill="#b4d7a8"/>
<text x="1221.82" y="57.00">67</text>
<text x="1156.09" y="131.00">89</text>
<text x="1221.83" y="131.00">86</text>
<text x="1155.89" y="205.00">25</text>
<text x="1211.92" y="205.00">100</text>
<text x="1015.52" y="279.00">100</text>
<text x="1098.41" y="279.00">0</text>
<text x="1156.08" y="279.00">97</text>
<text x="969.61" y="356.00">0</text>
<text x="1034.70" y="356.00">7</text>
<text x="1098.41" y="356.00">0</text>
<text x="1164.86" y="356.00">1</text>
<text x="1231.11" y="356.00">0</text>
<text x="895.09" y="427.00">35</text>
<text x="969.61" y="427.00">2</text>
<text x="1025.54" y="427.00">82</text>
<text x="1089.02" y="427.00">23</text>
<text x="1156.01" y="427.00">50</text>
<text x="1221.62" y="427.00">70</text>
<text x="840.81" y="501.00">3</text>
<text x="894.24" y="501.00">14</text>
<text x="969.72" y="501.00">4</text>
<text x="1025.53" y="501.00">44</text>
<text x="1088.34" y="501.00">14</text>
<text x="1155.84" y="501.00">20</text>
<text x="1221.81" y="501.00">50</text>
<text x="831.27" y="572.00">75</text>
<text x="894.87" y="572.00">75</text>
<text x="969.61" y="572.00">8</text>
<text x="1015.52" y="572.00">100</text>
<text x="1156.01" y="572.00">50</text>
<text x="699.76" y="647.00">74</text>
<text x="765.49" y="647.00">84</text>
<text x="831.32" y="647.00">23</text>
<text x="894.85" y="647.00">54</text>
<text x="969.61" y="647.00">2</text>
<text x="1025.38" y="647.00">96</text>
<text x="1089.30" y="647.00">31</text>
<text x="1156.01" y="647.00">77</text>
<text x="1221.78" y="647.00">93</text>
<text x="637.21" y="721.00">77</text>
<text x="700.01" y="721.00">66</text>
<text x="755.82" y="721.00">100</text>
<text x="830.99" y="721.00">17</text>
<text x="895.04" y="721.00">30</text>
<text x="969.61" y="721.00">2</text>
<text x="1025.43" y="721.00">83</text>
<text x="1088.94" y="721.00">20</text>
<text x="1155.96" y="721.00">79</text>
<text x="1221.67" y="721.00">75</text>
<text x="579.21" y="794.00">0</text>
<text x="637.21" y="794.00">50</text>
<text x="700.10" y="794.00">85</text>
<text x="821.52" y="794.00">100</text>
<text x="895.11" y="794.00">38</text>
<text x="969.61" y="794.00">0</text>
<text x="1015.52" y="794.00">100</text>
<text x="1155.83" y="794.00">60</text>
<text x="1211.92" y="794.00">100</text>
<text x="519.61" y="870.00">0</text>
<text x="579.21" y="870.00">0</text>
<text x="646.51" y="870.00">2</text>
<text x="709.51" y="870.00">3</text>
<text x="775.01" y="870.00">0</text>
<text x="840.26" y="870.00">1</text>
<text x="903.86" y="870.00">1</text>
<text x="969.61" y="870.00">0</text>
<text x="1034.70" y="870.00">7</text>
<text x="1098.41" y="870.00">2</text>
<text x="1165.31" y="870.00">2</text>
<text x="1231.14" y="870.00">5</text>
<text x="442.54" y="944.00">19</text>
<text x="519.16" y="944.00">1</text>
<text x="637.58" y="944.00">43</text>
<text x="700.30" y="944.00">52</text>
<text x="765.57" y="944.00">75</text>
<text x="830.97" y="944.00">11</text>
<text x="894.91" y="944.00">28</text>
<text x="969.16" y="944.00">1</text>
<text x="1025.49" y="944.00">89</text>
<text x="1098.41" y="944.00">0</text>
<text x="1156.43" y="944.00">49</text>
<text x="1221.82" y="944.00">67</text>
<text x="433.12" y="1016.00">100</text>
<text x="510.14" y="1016.00">20</text>
<text x="627.32" y="1016.00">100</text>
<text x="699.93" y="1016.00">60</text>
<text x="895.01" y="1016.00">50</text>
<text x="1165.31" y="1016.00">0</text>
<text x="322.91" y="1090.00">0</text>
<text x="387.71" y="1090.00">0</text>
<text x="452.42" y="1090.00">4</text>
<text x="519.61" y="1090.00">0</text>
<text x="579.21" y="1090.00">8</text>
<text x="646.62" y="1090.00">4</text>
<text x="709.41" y="1090.00">8</text>
<text x="765.27" y="1090.00">11</text>
<text x="840.26" y="1090.00">1</text>
<text x="904.42" y="1090.00">4</text>
<text x="969.61" y="1090.00">0</text>
<text x="1025.40" y="1090.00">21</text>
<text x="1098.51" y="1090.00">3</text>
<text x="1165.42" y="1090.00">4</text>
<text x="1221.29" y="1090.00">13</text>
<text x="251.10" y="1163.00">52</text>
<text x="322.90" y="1163.00">7</text>
<text x="443.06" y="1163.00">55</text>
<text x="519.64" y="1163.00">5</text>
<text x="637.10" y="1163.00">68</text>
<text x="700.00" y="1163.00">68</text>
<text x="755.82" y="1163.00">100</text>
<text x="831.38" y="1163.00">29</text>
<text x="895.20" y="1163.00">57</text>
<text x="969.64" y="1163.00">5</text>
<text x="1025.27" y="1163.00">75</text>
<text x="1098.41" y="1163.00">0</text>
<text x="1156.02" y="1163.00">62</text>
<text x="1221.92" y="1163.00">33</text>
<ellipse cx="1273.2" cy="1004" rx="4" ry="9" fill="#000"/>
<rect x="220.8" y="43.80" width="10.8" height="5" fill="#000"/>
<text x="-1.72" y="57.00">rs368507952</text>
<rect x="220.8" y="117.50" width="10.8" height="5" fill="#000"/>
<text x="35.33" y="131.00">rs1805009</text>
<rect x="220.8" y="191.20" width="10.8" height="5" fill="#000"/>
<text x="-2.42" y="205.00">rs200000734</text>
<rect x="220.8" y="264.90" width="10.8" height="5" fill="#000"/>
<text x="-1.72" y="279.00">rs555179612</text>
<rect x="220.8" y="338.60" width="10.8" height="5" fill="#000"/>
<text x="53.91" y="353.00">rs885479</text>
<rect x="220.8" y="412.30" width="10.8" height="5" fill="#000"/>
<text x="35.20" y="427.00">rs1805008</text>
<rect x="220.8" y="486.00" width="10.8" height="5" fill="#000"/>
<text x="35.05" y="501.00">rs1110400</text>
<rect x="220.8" y="559.70" width="10.8" height="5" fill="#000"/>
<text x="-1.93" y="575.00">rs201326893</text>
<rect x="220.8" y="633.40" width="10.8" height="5" fill="#000"/>
<text x="35.43" y="649.00">rs1805007</text>
<rect x="220.8" y="707.10" width="10.8" height="5" fill="#000"/>
<text x="16.15" y="723.00">rs11547464</text>
<rect x="220.8" y="780.80" width="10.8" height="5" fill="#000"/>
<text x="16.15" y="797.00">rs34158934</text>
<rect x="220.8" y="854.50" width="10.8" height="5" fill="#000"/>
<text x="35.33" y="871.00">rs2228479</text>
<rect x="220.8" y="928.20" width="10.8" height="5" fill="#000"/>
<text x="35.22" y="944.00">rs1805006</text>
<rect x="220.8" y="1001.90" width="10.8" height="5" fill="#000"/>
<text x="16.85" y="1018.00">rs34474212</text>
<rect x="220.8" y="1075.60" width="10.8" height="5" fill="#000"/>
<text x="35.15" y="1092.00">rs1805005</text>
<rect x="220.8" y="1149.30" width="10.8" height="5" fill="#000"/>
<text x="35.33" y="1166.00">rs3212379</text>
<rect x="1285" y="43.80" width="13" height="5" fill="#000"/>
<text x="1327.43" y="57.00">Arg306Hs</text>
<rect x="1285" y="117.50" width="13" height="5" fill="#000"/>
<text x="1327.43" y="131.00">Arp294Hs</text>
<rect x="1285" y="191.20" width="13" height="5" fill="#000"/>
<text x="1327.43" y="205.00">Arg213Trp</text>
<rect x="1285" y="264.90" width="13" height="5" fill="#000"/>
<text x="1325.25" y="279.00">le180Hsfs</text>
<rect x="1285" y="338.60" width="13" height="5" fill="#000"/>
<text x="1327.43" y="353.00">Arg163Gln</text>
<rect x="1285" y="412.30" width="13" height="5" fill="#000"/>
<text x="1327.43" y="427.00">Arg160Trp</text>
<rect x="1285" y="486.00" width="13" height="5" fill="#000"/>
<text x="1325.25" y="501.00">le155Thr</text>
<rect x="1285" y="559.70" width="13" height="5" fill="#000"/>
<text x="1326.75" y="575.00">Tyr152Ter</text>
<rect x="1285" y="633.40" width="13" height="5" fill="#000"/>
<text x="1327.43" y="649.00">Arg151Cys</text>
<rect x="1285" y="707.10" width="13" height="5" fill="#000"/>
<text x="1327.43" y="723.00">Arg142Hs</text>
<rect x="1285" y="780.80" width="13" height="5" fill="#000"/>
<text x="1326.75" y="797.00">Thr95Met</text>
<rect x="1285" y="854.50" width="13" height="5" fill="#000"/>
<text x="1327.35" y="871.00">Val92Met</text>
<rect x="1285" y="928.20" width="13" height="5" fill="#000"/>
<text x="1327.43" y="944.00">Asp84Asn</text>
<rect x="1285" y="1001.90" width="13" height="5" fill="#000"/>
<text x="1325.98" y="1018.00">Ser83Pro</text>
<rect x="1285" y="1075.60" width="13" height="5" fill="#000"/>
<text x="1327.35" y="1092.00">Val60Leu</text>
<rect x="1285" y="1149.30" width="13" height="5" fill="#000"/>
<text x="1324.92" y="1166.00">Upstream</text>
<rect x="266.80" y="1196" width="6" height="11.7" fill="#000"/>
<text transform="translate(285.65 1228.20) rotate(-90)" text-anchor="end">rs3212379</text>
<rect x="331.59" y="1196" width="6" height="11.7" fill="#000"/>
<text transform="translate(350.29 1228.20) rotate(-90)" text-anchor="end">rs1805005</text>
<rect x="396.38" y="1196" width="6" height="11.7" fill="#000"/>
<text transform="translate(414.93 1228.20) rotate(-90)" text-anchor="end">rs34474212</text>
<rect x="461.17" y="1196" width="6" height="11.7" fill="#000"/>
<text transform="translate(479.57 1228.20) rotate(-90)" text-anchor="end">rs1805006</text>
<rect x="525.96" y="1196" width="6" height="11.7" fill="#000"/>
<text transform="translate(544.21 1228.20) rotate(-90)" text-anchor="end">rs2228479</text>
<rect x="590.75" y="1196" width="6" height="11.7" fill="#000"/>
<text transform="translate(608.85 1228.20) rotate(-90)" text-anchor="end">rs34158934</text>
<rect x="655.54" y="1196" width="6" height="11.7" fill="#000"/>
<text transform="translate(673.49 1228.20) rotate(-90)" text-anchor="end">rs11547464</text>
<rect x="720.33" y="1196" width="6" height="11.7" fill="#000"/>
<text transform="translate(738.13 1228.20) rotate(-90)" text-anchor="end">rs1805007</text>
<rect x="785.12" y="1196" width="6" height="11.7" fill="#000"/>
<text transform="translate(802.77 1228.20) rotate(-90)" text-anchor="end">rs201326893</text>
<rect x="849.91" y="1196" width="6" height="11.7" fill="#000"/>
<text transform="translate(867.41 1228.20) rotate(-90)" text-anchor="end">rs1110400</text>
<rect x="914.70" y="1196" width="6" height="11.7" fill="#000"/>
<text transform="translate(932.05 1228.20) rotate(-90)" text-anchor="end">rs1805008</text>
<rect x="979.49" y="1196" width="6" height="11.7" fill="#000"/>
<text transform="translate(996.69 1228.20) rotate(-90)" text-anchor="end">rs885479</text>
<rect x="1044.28" y="1196" width="6" height="11.7" fill="#000"/>
<text transform="translate(1061.33 1228.20) rotate(-90)" text-anchor="end">rs555179612</text>
<rect x="1109.07" y="1196" width="6" height="11.7" fill="#000"/>
<text transform="translate(1125.97 1228.20) rotate(-90)" text-anchor="end">rs200000734</text>
<rect x="1173.86" y="1196" width="6" height="11.7" fill="#000"/>
<text transform="translate(1190.61 1228.20) rotate(-90)" text-anchor="end">rs1805009</text>
<rect x="1238.65" y="1196" width="6" height="11.7" fill="#000"/>
<text transform="translate(1255.25 1228.20) rotate(-90)" text-anchor="end">rs368507952</text>
</svg></div></body></html>
